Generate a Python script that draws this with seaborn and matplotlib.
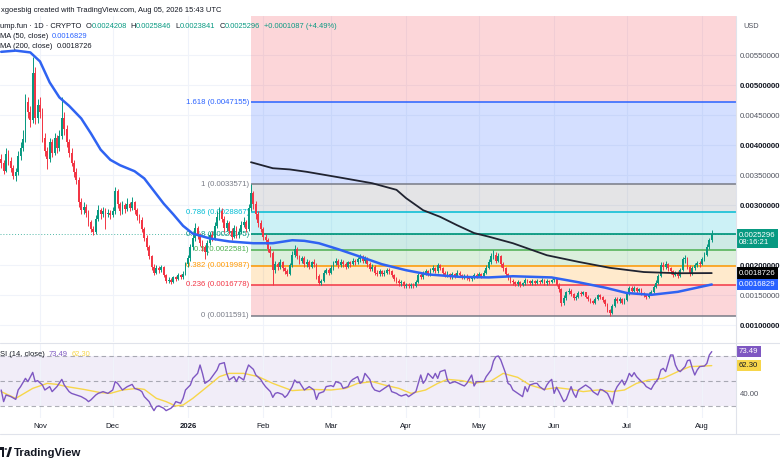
import numpy as np
import pandas as pd
import matplotlib
matplotlib.use("Agg")
import matplotlib.pyplot as plt
from matplotlib import transforms
from matplotlib.lines import Line2D
from matplotlib.patches import Polygon, Circle
import seaborn as sns

W, H = 780, 470

# --- daily candles, prices in thousandths of a USD ---
start_date = "2025-10-16"
first_open = 3.78
closes = [
    3.70, 3.58, 3.86, 3.74, 3.62, 3.49, 3.55, 3.82, 3.95, 4.10,
    4.72, 4.55, 4.42, 5.20, 4.45, 4.68, 4.55, 4.12, 3.90, 3.78,
    4.05, 3.88, 4.12, 3.95, 4.15, 4.45, 4.28, 4.05, 3.88, 3.70,
    3.55, 3.42, 3.05, 2.92, 2.98, 2.88, 2.72, 2.60, 2.55, 2.78,
    2.92, 2.85, 2.90, 2.86, 2.88, 2.84, 2.90, 3.24, 3.02, 2.90,
    3.00, 2.94, 3.03, 2.96, 3.05, 2.92, 2.82, 2.76, 2.60, 2.45,
    2.30, 2.15, 1.98, 1.88, 1.96, 1.92, 1.97, 1.84, 1.74, 1.76,
    1.73, 1.80, 1.78, 1.84, 1.80, 1.86, 2.02, 2.12, 2.30, 2.45,
    2.62, 2.50, 2.38, 2.30, 2.22, 2.38, 2.50, 2.45, 2.66, 2.80,
    2.90, 2.78, 2.62, 2.70, 2.58, 2.48, 2.62, 2.50, 2.55, 2.68,
    2.72, 2.60, 2.95, 3.20, 3.02, 2.85, 2.70, 2.60, 2.48, 2.42,
    2.28, 2.20, 1.92, 2.02, 1.98, 2.05, 1.95, 1.90, 1.86, 2.00,
    2.18, 2.28, 2.15, 2.08, 2.12, 2.02, 2.06, 1.98, 2.05, 2.02,
    1.82, 1.70, 1.74, 1.88, 1.92, 1.88, 1.96, 2.04, 2.08, 2.00,
    2.06, 2.02, 1.98, 2.05, 2.02, 2.08, 2.05, 2.10, 2.14, 2.08,
    2.12, 2.02, 1.94, 1.98, 1.88, 1.86, 1.90, 1.85, 1.88, 1.92,
    1.90, 1.84, 1.78, 1.74, 1.70, 1.72, 1.66, 1.68, 1.65, 1.68,
    1.66, 1.72, 1.84, 1.80, 1.86, 1.90, 1.85, 1.92, 1.96, 1.90,
    2.00, 1.96, 1.88, 1.84, 1.86, 1.80, 1.85, 1.82, 1.88, 1.84,
    1.80, 1.83, 1.80, 1.77, 1.80, 1.84, 1.82, 1.86, 1.82, 1.88,
    1.96, 2.06, 2.15, 2.18, 2.08, 2.16, 2.02, 1.95, 1.86, 1.80,
    1.74, 1.72, 1.69, 1.72, 1.67, 1.70, 1.76, 1.74, 1.70, 1.74,
    1.71, 1.74, 1.72, 1.76, 1.70, 1.74, 1.72, 1.75, 1.77, 1.68,
    1.60, 1.38, 1.46, 1.55, 1.58, 1.52, 1.45, 1.48, 1.54, 1.52,
    1.55, 1.48, 1.44, 1.40, 1.38, 1.44, 1.50, 1.47, 1.42, 1.36,
    1.26, 1.21, 1.32, 1.44, 1.40, 1.44, 1.38, 1.42, 1.52, 1.62,
    1.58, 1.62, 1.57, 1.60, 1.54, 1.50, 1.47, 1.52, 1.56, 1.64,
    1.71, 1.82, 2.00, 1.97, 2.02, 1.95, 1.90, 1.84, 1.88, 1.82,
    1.92, 2.10, 2.12, 1.98, 1.86, 1.96, 2.00, 2.04, 2.02, 2.10,
    2.18, 2.31, 2.4208, 2.5296,
]
highs = [
    3.85, 3.76, 3.95, 3.92, 3.80, 3.68, 3.62, 3.90, 4.05, 4.25,
    4.85, 4.80, 4.66, 5.47, 5.30, 4.78, 4.80, 4.62, 4.20, 3.98,
    4.12, 4.10, 4.20, 4.18, 4.25, 4.80, 4.55, 4.34, 4.10, 3.95,
    3.76, 3.62, 3.48, 3.12, 3.06, 3.02, 2.92, 2.76, 2.66, 2.84,
    3.00, 2.96, 2.98, 2.95, 2.94, 2.92, 2.98, 3.30, 3.28, 3.06,
    3.08, 3.04, 3.12, 3.06, 3.14, 3.08, 2.96, 2.86, 2.80, 2.64,
    2.50, 2.34, 2.18, 2.02, 2.00, 1.99, 2.01, 1.99, 1.86, 1.80,
    1.79, 1.83, 1.83, 1.87, 1.86, 1.90, 2.06, 2.18, 2.36, 2.52,
    2.70, 2.66, 2.54, 2.42, 2.34, 2.42, 2.56, 2.58, 2.72, 2.90,
    2.98, 2.95, 2.82, 2.76, 2.74, 2.62, 2.68, 2.66, 2.62, 2.74,
    2.80, 2.76, 3.02, 3.3571, 3.24, 3.08, 2.90, 2.75, 2.64, 2.52,
    2.46, 2.32, 2.24, 2.08, 2.06, 2.10, 2.08, 1.98, 1.94, 2.04,
    2.24, 2.34, 2.30, 2.18, 2.16, 2.15, 2.10, 2.09, 2.08, 2.10,
    2.04, 1.85, 1.78, 1.92, 1.96, 1.95, 2.00, 2.08, 2.12, 2.10,
    2.10, 2.09, 2.05, 2.08, 2.08, 2.12, 2.11, 2.14, 2.19, 2.17,
    2.16, 2.14, 2.05, 2.02, 2.00, 1.92, 1.94, 1.92, 1.92, 1.96,
    1.95, 1.92, 1.86, 1.80, 1.77, 1.76, 1.74, 1.71, 1.70, 1.71,
    1.70, 1.75, 1.88, 1.87, 1.90, 1.94, 1.92, 1.96, 2.00, 1.98,
    2.04, 2.03, 1.98, 1.90, 1.90, 1.88, 1.89, 1.87, 1.92, 1.90,
    1.86, 1.86, 1.85, 1.82, 1.83, 1.87, 1.87, 1.89, 1.88, 1.92,
    2.00, 2.10, 2.20, 2.26, 2.22, 2.20, 2.18, 2.05, 1.97, 1.88,
    1.82, 1.77, 1.74, 1.75, 1.74, 1.73, 1.79, 1.78, 1.76, 1.77,
    1.76, 1.77, 1.76, 1.79, 1.78, 1.77, 1.76, 1.78, 1.81, 1.79,
    1.70, 1.62, 1.50, 1.58, 1.62, 1.60, 1.54, 1.51, 1.57, 1.57,
    1.58, 1.56, 1.50, 1.46, 1.42, 1.47, 1.53, 1.52, 1.49, 1.44,
    1.38, 1.28, 1.35, 1.47, 1.47, 1.47, 1.46, 1.45, 1.55, 1.66,
    1.65, 1.66, 1.64, 1.63, 1.62, 1.56, 1.52, 1.55, 1.59, 1.67,
    1.75, 1.86, 2.05, 2.06, 2.08, 2.04, 1.97, 1.93, 1.91, 1.90,
    1.95, 2.14, 2.18, 2.14, 2.00, 1.99, 2.04, 2.08, 2.07, 2.14,
    2.22, 2.35, 2.46, 2.5846,
]
lows = [
    3.62, 3.52, 3.55, 3.68, 3.55, 3.44, 3.40, 3.50, 3.76, 3.90,
    4.05, 4.45, 4.30, 4.38, 4.35, 4.38, 4.45, 4.05, 3.82, 3.60,
    3.72, 3.80, 3.84, 3.88, 3.90, 4.10, 4.18, 3.98, 3.80, 3.65,
    3.48, 3.36, 2.98, 2.85, 2.86, 2.80, 2.66, 2.55, 2.50, 2.52,
    2.74, 2.78, 2.80, 2.60, 2.80, 2.78, 2.80, 2.86, 2.96, 2.84,
    2.86, 2.88, 2.90, 2.90, 2.92, 2.86, 2.76, 2.70, 2.55, 2.40,
    2.25, 2.10, 1.93, 1.84, 1.85, 1.88, 1.89, 1.80, 1.70, 1.71,
    1.69, 1.71, 1.74, 1.76, 1.77, 1.78, 1.84, 1.98, 2.08, 2.26,
    2.40, 2.44, 2.32, 2.24, 2.10, 2.18, 2.34, 2.40, 2.42, 2.62,
    2.76, 2.72, 2.56, 2.58, 2.52, 2.42, 2.45, 2.46, 2.46, 2.52,
    2.64, 2.55, 2.58, 2.90, 2.94, 2.78, 2.64, 2.55, 2.42, 2.36,
    2.22, 2.14, 1.67, 1.88, 1.92, 1.94, 1.90, 1.86, 1.82, 1.84,
    1.98, 2.14, 2.10, 2.02, 2.04, 1.98, 1.98, 1.94, 1.95, 1.98,
    1.78, 1.67, 1.67, 1.72, 1.85, 1.84, 1.86, 1.93, 2.00, 1.96,
    1.97, 1.98, 1.94, 1.95, 1.98, 2.00, 2.01, 2.02, 2.06, 2.04,
    2.04, 1.98, 1.90, 1.90, 1.84, 1.82, 1.83, 1.82, 1.82, 1.85,
    1.86, 1.80, 1.74, 1.70, 1.66, 1.66, 1.63, 1.63, 1.62, 1.63,
    1.63, 1.64, 1.70, 1.77, 1.78, 1.84, 1.82, 1.83, 1.89, 1.87,
    1.88, 1.92, 1.84, 1.80, 1.81, 1.77, 1.78, 1.79, 1.80, 1.81,
    1.77, 1.78, 1.76, 1.74, 1.74, 1.78, 1.79, 1.80, 1.79, 1.80,
    1.86, 1.94, 2.03, 2.10, 2.04, 2.05, 1.98, 1.91, 1.82, 1.76,
    1.70, 1.68, 1.66, 1.66, 1.64, 1.65, 1.68, 1.71, 1.67, 1.68,
    1.68, 1.69, 1.69, 1.70, 1.67, 1.68, 1.69, 1.70, 1.72, 1.65,
    1.56, 1.32, 1.34, 1.43, 1.52, 1.49, 1.42, 1.43, 1.46, 1.49,
    1.50, 1.45, 1.41, 1.37, 1.35, 1.36, 1.42, 1.44, 1.39, 1.33,
    1.22, 1.16, 1.19, 1.30, 1.37, 1.37, 1.35, 1.35, 1.40, 1.50,
    1.55, 1.56, 1.54, 1.55, 1.51, 1.47, 1.44, 1.45, 1.50, 1.54,
    1.62, 1.69, 1.80, 1.93, 1.94, 1.91, 1.86, 1.81, 1.82, 1.79,
    1.80, 1.90, 2.04, 1.94, 1.83, 1.84, 1.93, 1.97, 1.98, 2.00,
    2.07, 2.15, 2.28, 2.3841,
]
# daily change shown in the legend (against the previous close)
last_change = 0.0001087
last_change_pct = 4.49

# moving averages (thousandths of a USD)
ma50_dates = ["2025-10-16", "2025-10-22", "2025-10-28", "2025-11-01", "2025-11-05",
              "2025-11-09", "2025-11-13", "2025-11-18", "2025-11-22", "2025-11-26",
              "2025-11-30", "2025-12-04", "2025-12-10", "2025-12-14", "2025-12-18",
              "2025-12-22", "2025-12-26", "2025-12-30", "2026-01-03", "2026-01-10",
              "2026-01-18", "2026-01-28", "2026-02-05", "2026-02-13", "2026-02-18",
              "2026-02-24", "2026-03-04", "2026-03-12", "2026-03-22", "2026-04-01",
              "2026-04-10", "2026-04-23", "2026-05-05", "2026-05-15", "2026-05-31",
              "2026-06-11", "2026-06-22", "2026-07-01", "2026-07-11", "2026-07-22",
              "2026-08-05"]
ma50_vals = [5.56, 5.58, 5.55, 5.40, 5.05, 4.80, 4.66, 4.45, 4.20, 3.93,
             3.76, 3.67, 3.57, 3.45, 3.24, 3.03, 2.85, 2.66, 2.53, 2.45,
             2.40, 2.37, 2.37, 2.42, 2.41, 2.37, 2.27, 2.16, 2.02, 1.92,
             1.85, 1.81, 1.80, 1.82, 1.80, 1.72, 1.63, 1.54, 1.51, 1.56,
             1.6829]
ma200_dates = ["2026-01-27", "2026-02-05", "2026-02-12", "2026-02-19", "2026-03-04",
               "2026-03-18", "2026-03-28", "2026-04-01", "2026-04-08", "2026-04-15",
               "2026-04-22", "2026-04-29", "2026-05-05", "2026-05-15", "2026-05-29",
               "2026-06-11", "2026-06-24", "2026-07-08", "2026-07-22", "2026-08-05"]
ma200_vals = [3.72, 3.62, 3.60, 3.56, 3.47, 3.37, 3.26, 3.12, 2.92, 2.81,
              2.67, 2.54, 2.48, 2.37, 2.17, 2.06, 1.96, 1.89, 1.87, 1.8726]

rsi_days = [0, 1, 2, 4, 6, 7, 8, 10, 11, 13, 14, 15, 17, 18, 20, 21, 23, 25, 26, 28,
            29, 31, 33, 35, 36, 37, 39, 40, 42, 44, 46, 47, 48, 50, 51, 52, 54, 55, 57, 58,
            59, 61, 62, 63, 64, 65, 67, 68, 70, 71, 72, 74, 75, 76, 78, 79, 81, 82, 83, 84,
            85, 86, 87, 89, 90, 92, 93, 94, 96, 97, 98, 100, 101, 102,
            104, 105, 107, 108, 109, 111, 112, 113, 114, 116, 117, 118, 120, 121, 122, 123,
            125, 126, 127, 129, 130, 131, 133, 134, 136, 137, 138, 140, 141, 143, 144, 145,
            147, 148, 149, 150, 152, 153, 154, 156, 157, 159, 160, 161, 163, 164, 165, 167,
            168, 170, 171, 173, 174, 175, 176, 178, 179, 180, 181, 183, 184, 185, 187, 188,
            190, 191, 192, 194, 195, 196, 197, 199, 200, 202, 203,
            204, 205, 206, 208, 209, 210, 211, 213, 214, 215, 216, 217, 218, 220, 221, 222,
            224, 225, 226, 227, 228, 229, 230, 232, 233, 235, 236, 237, 238, 240, 241, 243,
            244, 246, 247, 248, 250, 251, 252, 253, 254, 256, 257, 258, 259, 260, 261, 262,
            264, 265, 266, 268, 269, 271, 272, 273, 274, 275, 276, 277, 278, 279, 280, 282,
            283, 284, 285, 286, 287, 288, 290, 291, 292, 293]
rsi_vals = [42.8, 33.5, 38.8, 37.5, 35.3, 42.8, 45.5, 52.1, 49.5, 56.9,
            49.5, 50.3, 46.8, 42.8, 45.5, 41.5, 45.5, 51.3, 46.8, 41.5,
            40.1, 38.8, 37.5, 35.3, 33.5, 34.9, 38.8, 40.1, 41.5, 40.1,
            42.8, 49.5, 48.1, 42.8, 44.1, 45.5, 47.3, 44.1, 42.8, 41.5,
            37.5, 33.5, 29.5, 26.3, 29.5, 30.1, 28.2, 26.3, 28.2, 30.1,
            33.5, 32.2, 36.1, 42.8, 46.8, 52.1, 56.1, 62.8, 56.1, 48.1,
            49.5, 50.8, 53.5, 58.8, 63.6, 64.7, 56.1, 50.8, 53.5, 49.5,
            53.5, 50.8, 57.5, 62.8,
            59.3, 54.8, 51.3, 48.1, 45.5, 41.5, 36.9, 40.1, 40.7, 39.3,
            36.9, 38.8, 45.5, 50.8, 48.7, 48.9, 42.8, 44.1, 45.5, 42.8,
            35.3, 40.1, 41.5, 45.5, 46.3, 45.5, 49.5, 48.1, 44.1, 45.5,
            49.5, 51.3, 53.5, 48.1, 49.5, 56.1, 51.3, 45.5, 42.8, 41.5,
            42.8, 45.5, 46.8, 41.5, 40.1, 38.8, 38.0, 39.3, 37.5, 40.1,
            41.5, 54.8, 48.1, 50.8, 56.1, 52.1, 56.1, 52.1, 57.5, 58.8,
            50.8, 48.1, 49.5, 48.7, 46.8, 46.0, 48.1, 54.8, 46.0, 49.5,
            49.5, 49.5, 53.5, 58.8, 66.0,
            69.5, 70.0, 66.8, 56.1, 48.1, 46.8, 42.8, 40.1, 38.8, 37.5,
            45.5, 41.5, 46.8, 48.1, 48.1, 45.5, 42.8, 46.8, 49.5, 51.3,
            40.1, 45.0, 41.5, 33.5, 35.3, 45.5, 40.1, 36.9, 42.8, 45.5,
            46.8, 44.1, 41.5, 38.8, 43.3, 42.8, 40.1, 36.1, 31.6, 41.5,
            45.5, 50.8, 46.8, 50.8, 56.1, 53.5, 56.7, 53.5, 49.5, 48.1,
            45.5, 43.3, 46.8, 52.1, 58.8, 60.1, 57.5, 64.1, 70.8, 70.8,
            62.8, 58.8, 57.5, 61.5, 66.3, 66.8, 60.1, 54.8, 58.8, 61.5,
            62.0, 64.1, 70.8, 73.49]
rsi_ma_days = [0, 6, 13, 19, 23, 27, 34, 41, 45, 50, 56, 59, 64, 68, 72, 75, 79, 85, 90, 94,
               100, 106, 112, 120, 128, 136, 142, 147, 153, 158, 164, 169, 175, 180, 184,
               190, 195, 199, 202, 207, 213, 218, 224, 229, 235, 240, 246, 252, 257, 262,
               267, 273, 279, 284, 290, 293]
rsi_ma_vals = [41.5, 36.1, 44.1, 48.1, 47.3, 45.5, 43.3, 40.7, 40.1, 42.8,
               44.1, 43.3, 36.1, 33.5, 30.0, 30.8, 36.1, 45.5, 53.5, 56.1,
               56.1, 53.5, 48.1, 42.3, 43.3, 42.8, 44.1, 48.1, 49.5, 46.8,
               44.1, 40.1, 42.8, 48.1, 51.3, 50.3, 48.1, 49.5, 50.0, 56.1,
               52.9, 46.8, 43.3, 44.7, 43.3, 41.5, 42.8, 41.5, 42.8, 48.1,
               50.8, 52.1, 57.5, 61.5, 62.0, 62.3]

# fibonacci retracement drawn from the late-January high to the June low
fib_anchor = "2026-01-27"
fib_high = 0.0033571
fib_low = 0.0011591
fib_ratios = [0, 0.236, 0.382, 0.5, 0.618, 0.786, 1, 1.618, 2.618]
fib_colors = ["#787b86", "#f23645", "#ff9800", "#4caf50", "#089981",
              "#00bcd4", "#787b86", "#2962ff", "#f23645"]

GREEN, RED, BLUE, DARK = "#089981", "#f23645", "#2962ff", "#131722"
PURPLE, YELLOW, GRAY = "#7e57c2", "#f7d64a", "#50535e"
FS = 5.6

# --- prepare ---
dates = pd.date_range(start_date, periods=len(closes), freq="D")
c = np.array(closes) / 1000
o = np.r_[first_open, closes[:-1]] / 1000
h = np.maximum(np.array(highs) / 1000, np.maximum(o, c))
l = np.minimum(np.array(lows) / 1000, np.minimum(o, c))
x = np.arange(len(c))
rsi_last, rsi_ma_last = rsi_vals[-1], rsi_ma_vals[-1]

sns.set_theme(style="white")
plt.rcParams["font.family"] = ["Liberation Sans", "DejaVu Sans"]

fig = plt.figure(figsize=(W / 100, H / 100), dpi=100)
fig.patch.set_facecolor("white")


def fx(px):
    return px / W


def fy(py):
    return 1 - py / H


ax = fig.add_axes([0, fy(342), fx(736), (342 - 16) / H])
ax_rsi = fig.add_axes([0, fy(418), fx(736), (418 - 344) / H], sharex=ax)

xmin, xmax = -0.49, 303.0
ymin, ymax = 0.000724, 0.006157

# --- price pane ---
ax.set_xlim(xmin, xmax)
ax.set_ylim(ymin, ymax)

fib_x0 = dates.get_loc(pd.Timestamp(fib_anchor))
levels = fib_low + np.array(fib_ratios) * (fib_high - fib_low)
for i, (r, lv, col) in enumerate(zip(fib_ratios, levels, fib_colors)):
    if i > 0:
        ax.fill_between([fib_x0, xmax], levels[i - 1], lv, color=col, alpha=0.2,
                        lw=0, zorder=1)
    if lv > ymax:
        continue
    ax.hlines(lv, fib_x0, xmax, color=col, lw=1.3 if r == 0.618 else 1.1, zorder=2)
    ax.text(fib_x0 - 0.8, lv, f"{r:g} ({lv:.7f})", color=col, ha="right",
            va="center", fontsize=FS, zorder=3)

ax.axhline(c[-1], color=GREEN, lw=0.7, ls=(0, (1, 2)), alpha=0.7, zorder=3)

colors = np.where(c >= o, GREEN, RED)
ax.vlines(x, l, h, colors=colors, lw=0.7, zorder=4)
ax.bar(x, c - o, bottom=o, width=0.75, color=colors, linewidth=0, zorder=5)

ma50_x = dates.get_indexer(pd.to_datetime(ma50_dates))
ma200_x = dates.get_indexer(pd.to_datetime(ma200_dates))
sns.lineplot(x=ma50_x, y=np.array(ma50_vals) / 1000, ax=ax, color="#2f63f2",
             lw=1.8, estimator=None, sort=False, zorder=6)
sns.lineplot(x=ma200_x, y=np.array(ma200_vals) / 1000, ax=ax, color="#202330",
             lw=1.3, estimator=None, sort=False, zorder=6)

month_idx = np.where(dates.day == 1)[0]
month_lab = ["2026" if d.month == 1 else d.strftime("%b") for d in dates[month_idx]]

# 0.0025 sits under the last-price tag on the original scale
price_ticks = [v for v in np.arange(0.001, 0.00551, 0.0005) if abs(v - 0.0025) > 1e-9]
ax.yaxis.tick_right()
ax.set_yticks(price_ticks)
ax.set_yticklabels([f"{v:.8f}" for v in price_ticks])
for v, lab in zip(price_ticks, ax.get_yticklabels()):
    whole = abs(v * 1000 - round(v * 1000)) < 1e-6
    lab.set_color(DARK if whole else GRAY)
    lab.set_fontweight("bold" if whole else "normal")
ax.tick_params(axis="y", length=0, pad=3, labelsize=FS)
ax.set_xticks(month_idx)
ax.tick_params(axis="x", length=0, labelbottom=False)
ax.grid(True, color="#f0f3fa", lw=0.8, zorder=0)
ax.set_xlabel("")
ax.set_ylabel("")
for s in ax.spines.values():
    s.set_visible(False)

# --- RSI pane ---
ax_rsi.set_ylim(20.4, 79.6)
ax_rsi.axhspan(30, 70, color=PURPLE, alpha=0.1, lw=0, zorder=0)
for lvl in (70, 50, 30):
    ax_rsi.axhline(lvl, color="#787b86", lw=0.8, ls=(0, (4, 3)), alpha=0.6, zorder=1)
sns.lineplot(x=rsi_ma_days, y=rsi_ma_vals, ax=ax_rsi, color=YELLOW, lw=1.0,
             estimator=None, sort=False, zorder=2)
sns.lineplot(x=rsi_days, y=rsi_vals, ax=ax_rsi, color=PURPLE, lw=1.0,
             estimator=None, sort=False, zorder=3)
ax_rsi.yaxis.tick_right()
ax_rsi.set_yticks([40])
ax_rsi.set_yticklabels(["40.00"])
ax_rsi.tick_params(axis="y", length=0, pad=3, labelsize=FS, labelcolor=GRAY)
ax_rsi.set_xticks(month_idx)
ax_rsi.set_xticklabels(month_lab)
for t in ax_rsi.get_xticklabels():
    t.set_color(DARK)
    if t.get_text() == "2026":
        t.set_fontweight("bold")
ax_rsi.tick_params(axis="x", length=0, pad=3.5, labelsize=FS)
ax_rsi.grid(True, axis="x", color="#f0f3fa", lw=0.8, zorder=0)
ax_rsi.set_xlim(xmin, xmax)
ax_rsi.set_xlabel("")
ax_rsi.set_ylabel("")
for s in ax_rsi.spines.values():
    s.set_visible(False)


# --- right scale tags ---
def tag(axis, y, text, fc, tc, dy=0):
    tr = transforms.blended_transform_factory(axis.transAxes, axis.transData)
    tr = transforms.offset_copy(tr, fig=fig, x=3, y=dy, units="dots")
    axis.text(1.0, y, text, transform=tr, ha="left", va="center", fontsize=FS,
              color=tc, linespacing=1.05, clip_on=False, zorder=10,
              bbox=dict(boxstyle="square,pad=0.3", fc=fc, ec="none"))


tag(ax, c[-1], f"{c[-1]:.7f}\n08:16:21", GREEN, "white", dy=-5)
tag(ax, ma200_vals[-1] / 1000, f"{ma200_vals[-1] / 1000:.7f}", "#000000", "white")
tag(ax, ma50_vals[-1] / 1000, f"{ma50_vals[-1] / 1000:.7f}", BLUE, "white")
tag(ax_rsi, rsi_last, f"{rsi_last:.2f}", PURPLE, "white")
tag(ax_rsi, rsi_ma_last, f"{rsi_ma_last:.2f}", YELLOW, DARK)

# separators
line_kw = dict(color="#e0e3eb", lw=0.8, transform=fig.transFigure)
fig.add_artist(Line2D([0, 1], [fy(343), fy(343)], **line_kw))
fig.add_artist(Line2D([0, 1], [fy(434), fy(434)], **line_kw))
fig.add_artist(Line2D([fx(736), fx(736)], [fy(16), fy(434)], **line_kw))

# --- header texts ---
renderer = fig.canvas.get_renderer()


def rich(x_px, y_px, parts, size=5.4):
    for s, col, gap in parts:
        x_px += gap
        t = fig.text(fx(x_px), fy(y_px), s, color=col, fontsize=size,
                     va="center", ha="left")
        x_px += t.get_window_extent(renderer).width


rich(1, 10, [("xgoesbig created with TradingView.com, Aug 05, 2026 15:43 UTC", DARK, 0)])
rich(0, 26, [("ump.fun · 1D · CRYPTO", DARK, 0), ("O", DARK, 4),
             (f"{o[-1]:.7f}", GREEN, 0), ("H", DARK, 4), (f"{h[-1]:.7f}", GREEN, 0),
             ("L", DARK, 4), (f"{l[-1]:.7f}", GREEN, 0), ("C", DARK, 4),
             (f"{c[-1]:.7f}", GREEN, 0),
             (f"+{last_change:.7f} (+{last_change_pct:.2f}%)", GREEN, 4)])
rich(0, 36, [("MA (50, close)", DARK, 0), (f"{ma50_vals[-1] / 1000:.7f}", BLUE, 4)])
rich(0, 46, [("MA (200, close)", DARK, 0), (f"{ma200_vals[-1] / 1000:.7f}", DARK, 4)])
rich(0, 354, [("SI (14, close)", DARK, 0), (f"{rsi_last:.2f}", PURPLE, 4),
              (f"{rsi_ma_last:.2f}", YELLOW, 4)])
fig.text(fx(743), fy(27), "USD", fontsize=FS - 0.3, color=GRAY, va="center")


# --- TradingView mark ---
def px_poly(pts):
    return [(fx(a), fy(b)) for a, b in pts]


fig.add_artist(Polygon(px_poly([(-1, 447), (4, 447), (4, 457), (1.8, 457),
                                (1.8, 449.6), (-1, 449.6)]),
                       closed=True, fc=DARK, ec="none", transform=fig.transFigure))
fig.add_artist(Polygon(px_poly([(6.3, 457), (9.4, 447), (12, 447), (8.9, 457)]),
                       closed=True, fc=DARK, ec="none", transform=fig.transFigure))
fig.add_artist(Circle((fx(5.8), fy(449)), 1.3 / W, fc=DARK, ec="none",
                      transform=fig.transFigure))
fig.text(fx(14), fy(452.5), "TradingView", fontsize=8.2, fontweight="bold",
         color=DARK, va="center")

fig.savefig("out.png", dpi=100)
